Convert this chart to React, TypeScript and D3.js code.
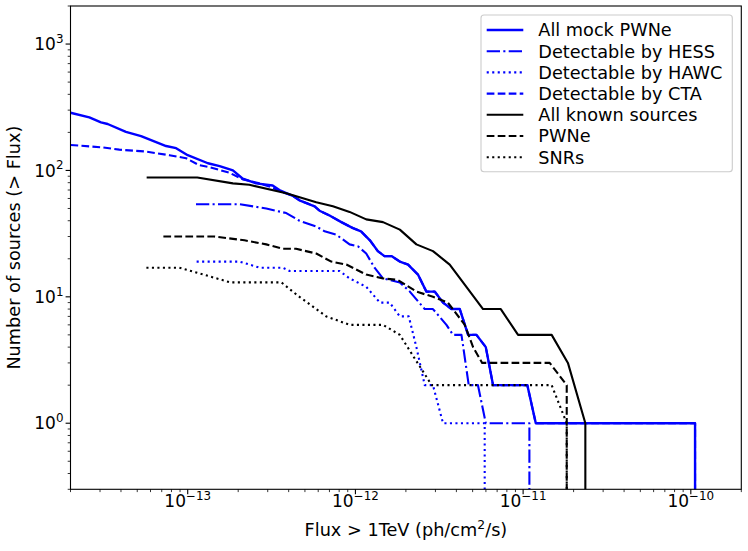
import * as d3 from "d3";

// Plot frame
const WIDTH = 748;
const HEIGHT = 551;
const MARGIN = { top: 6, right: 6.7, bottom: 61.7, left: 70.5 };
const FONT = "DejaVu Sans, sans-serif";
const LABEL_SIZE = 17.7;
const TICK_SIZE = 17;

const X_DOMAIN = [2e-14, 2e-10];
const Y_DOMAIN = [0.3, 2000];
const X_MAJOR = [1e-13, 1e-12, 1e-11, 1e-10];
const X_EXP = ["−13", "−12", "−11", "−10"];
const Y_MAJOR = [1, 10, 100, 1000];
const Y_EXP = ["0", "1", "2", "3"];

// [flux, number of sources above that flux]; 0 means the curve runs off the bottom
const allMock = [
  [2.0e-14, 286], [2.59e-14, 263], [3.04e-14, 240], [3.33e-14, 233], [4.28e-14, 202],
  [5.27e-14, 187], [7.43e-14, 156], [8.53e-14, 150], [1.0e-13, 132], [1.32e-13, 114],
  [1.55e-13, 108], [1.86e-13, 100], [2.13e-13, 86], [2.56e-13, 79], [3.21e-13, 76],
  [3.52e-13, 70], [4.23e-13, 63], [4.64e-13, 58], [5.71e-13, 52], [6.11e-13, 48],
  [7.01e-13, 44], [8.24e-13, 39], [9.66e-13, 35], [1.08e-12, 33], [1.22e-12, 28],
  [1.36e-12, 23], [1.49e-12, 21], [1.64e-12, 21], [1.84e-12, 19], [2.06e-12, 18],
  [2.36e-12, 15], [2.65e-12, 11], [2.97e-12, 11], [3.33e-12, 9], [3.74e-12, 8],
  [4.19e-12, 8], [4.70e-12, 5], [5.27e-12, 5], [5.99e-12, 4], [6.62e-12, 2],
  [1.06e-11, 2], [1.19e-11, 1], [1.06e-10, 1], [1.06e-10, 0],
];

const hess = [
  [1.12e-13, 54], [2.04e-13, 54], [2.94e-13, 50], [3.87e-13, 46], [4.64e-13, 40],
  [5.84e-13, 36], [6.55e-13, 33], [7.69e-13, 31], [9.23e-13, 26], [1.04e-12, 25],
  [1.16e-12, 22], [1.30e-12, 17], [1.46e-12, 14], [1.84e-12, 13], [2.11e-12, 11],
  [2.59e-12, 8], [2.90e-12, 8], [3.49e-12, 6], [3.82e-12, 5], [4.29e-12, 5],
  [4.74e-12, 2], [5.38e-12, 2], [5.99e-12, 1], [1.09e-11, 1], [1.09e-11, 0],
];

const hawc = [
  [1.13e-13, 19], [2.04e-13, 19], [2.68e-13, 17], [3.69e-13, 17], [4.05e-13, 16],
  [8.05e-13, 16], [9.23e-13, 14], [1.16e-12, 12], [1.40e-12, 9], [1.60e-12, 9],
  [1.84e-12, 7], [2.08e-12, 7], [2.31e-12, 4], [2.59e-12, 2], [2.90e-12, 2],
  [3.33e-12, 1], [5.90e-12, 1], [5.90e-12, 0],
];

const cta = [
  [2.0e-14, 159], [3.11e-14, 152], [3.91e-14, 146], [5.65e-14, 141], [7.78e-14, 132],
  [9.78e-14, 125], [1.17e-13, 110], [1.35e-13, 106], [1.77e-13, 96], [2.13e-13, 85],
  [2.68e-13, 79], [3.21e-13, 73], [3.69e-13, 67], [4.23e-13, 63], [4.64e-13, 58],
  [5.71e-13, 52], [6.11e-13, 48], [7.01e-13, 44], [8.24e-13, 39], [9.66e-13, 35],
  [1.08e-12, 33], [1.22e-12, 28], [1.36e-12, 23], [1.49e-12, 21], [1.64e-12, 21],
  [1.84e-12, 19], [2.06e-12, 18], [2.36e-12, 15], [2.65e-12, 11], [2.97e-12, 11],
  [3.33e-12, 9], [3.74e-12, 8], [4.19e-12, 8], [4.70e-12, 5], [5.27e-12, 5],
  [5.99e-12, 4], [6.62e-12, 2], [1.06e-11, 2], [1.19e-11, 1], [1.06e-10, 1],
  [1.06e-10, 0],
];

const allKnown = [
  [5.69e-14, 88], [1.14e-13, 88], [1.86e-13, 79], [2.33e-13, 77], [3.87e-13, 66],
  [5.84e-13, 56], [7.34e-13, 52], [9.23e-13, 47], [1.16e-12, 41], [1.46e-12, 39],
  [1.84e-12, 34], [2.31e-12, 26], [2.90e-12, 23], [3.65e-12, 18], [5.77e-12, 8],
  [7.36e-12, 8], [9.33e-12, 5], [1.48e-11, 5], [1.85e-11, 3], [2.35e-11, 1],
  [2.35e-11, 0],
];

const pwne = [
  [7.16e-14, 30], [1.44e-13, 30], [2.18e-13, 28], [2.94e-13, 26], [3.69e-13, 24],
  [4.43e-13, 24], [5.84e-13, 22], [7.18e-13, 19], [8.83e-13, 18], [1.16e-12, 15],
  [1.46e-12, 14], [1.79e-12, 13.6], [2.31e-12, 11], [2.90e-12, 10], [3.56e-12, 9],
  [4.49e-12, 6], [5.03e-12, 4], [5.70e-12, 3], [1.44e-11, 3], [1.82e-11, 2],
  [1.82e-11, 0],
];

const snrs = [
  [5.67e-14, 17], [8.92e-14, 17], [1.24e-13, 15], [1.80e-13, 13], [3.62e-13, 13],
  [4.23e-13, 11], [4.64e-13, 10], [5.84e-13, 8], [6.70e-13, 7], [9.23e-13, 6],
  [1.46e-12, 6], [1.84e-12, 5], [2.21e-12, 3.4], [2.85e-12, 2], [1.48e-11, 2],
  [1.82e-11, 1], [1.82e-11, 0],
];

// matplotlib default dash patterns for a 1.5pt line, in px
const DASHED = "7.7 3.3";
const DASHDOT = "13.3 3.3 2.1 3.3";
const DOTTED = "2.1 3.4";

const SERIES = [
  { name: "All mock PWNe", data: allMock, color: "#0000ff", dash: "none", width: 2.4 },
  { name: "Detectable by HESS", data: hess, color: "#0000ff", dash: DASHDOT, width: 2.1 },
  { name: "Detectable by HAWC", data: hawc, color: "#0000ff", dash: DOTTED, width: 2.1 },
  { name: "Detectable by CTA", data: cta, color: "#0000ff", dash: DASHED, width: 2.1 },
  { name: "All known sources", data: allKnown, color: "#000000", dash: "none", width: 2.1 },
  { name: "PWNe", data: pwne, color: "#000000", dash: DASHED, width: 2.1 },
  { name: "SNRs", data: snrs, color: "#000000", dash: DOTTED, width: 2.1 },
];

const minorTicks = (domain: number[]) => {
  const out: number[] = [];
  const lo = Math.floor(Math.log10(domain[0]));
  const hi = Math.ceil(Math.log10(domain[1]));
  for (let e = lo; e <= hi; e++) {
    for (let m = 2; m <= 9; m++) {
      const v = m * Math.pow(10, e);
      if (v >= domain[0] && v <= domain[1]) out.push(v);
    }
  }
  return out;
};

export default function App() {
  const left = MARGIN.left;
  const right = WIDTH - MARGIN.right;
  const top = MARGIN.top;
  const bottom = HEIGHT - MARGIN.bottom;

  const xScale = d3.scaleLog().domain(X_DOMAIN).range([left, right]);
  const yScale = d3.scaleLog().domain(Y_DOMAIN).range([bottom, top]);

  // counts of zero go far below the frame and get clipped, like matplotlib does
  const line = d3
    .line<number[]>()
    .x((d) => xScale(d[0]))
    .y((d) => (d[1] > 0 ? yScale(d[1]) : bottom + 100));

  const legendX = 481;
  const legendY = 15;
  const rowH = 21.2;

  return (
    <svg
      width={WIDTH}
      height={HEIGHT}
      style={{ position: "absolute", left: 0, top: 0, background: "#fff" }}
      fontFamily={FONT}
    >
      <defs>
        <clipPath id="plot-area">
          <rect x={left} y={top} width={right - left} height={bottom - top} />
        </clipPath>
      </defs>

      <g clipPath="url(#plot-area)">
        {SERIES.map((s) => (
          <path
            key={s.name}
            d={line(s.data) ?? ""}
            fill="none"
            stroke={s.color}
            strokeWidth={s.width}
            strokeDasharray={s.dash}
            strokeLinejoin="round"
          />
        ))}
      </g>

      {/* frame */}
      <rect
        x={left}
        y={top}
        width={right - left}
        height={bottom - top}
        fill="none"
        stroke="#000"
        strokeWidth={1.1}
      />

      {/* x ticks */}
      {minorTicks(X_DOMAIN).map((v) => (
        <line key={"xm" + v} x1={xScale(v)} x2={xScale(v)} y1={bottom} y2={bottom + 2.8} stroke="#000" strokeWidth={0.8} />
      ))}
      {X_MAJOR.map((v, i) => (
        <g key={"x" + v}>
          <line x1={xScale(v)} x2={xScale(v)} y1={bottom} y2={bottom + 4.9} stroke="#000" strokeWidth={1.1} />
          <text x={xScale(v)} y={507} fontSize={TICK_SIZE} textAnchor="middle">
            <tspan>10</tspan>
            <tspan dy={-7.5} fontSize={TICK_SIZE * 0.7}>{X_EXP[i]}</tspan>
          </text>
        </g>
      ))}

      {/* y ticks */}
      {minorTicks(Y_DOMAIN).map((v) => (
        <line key={"ym" + v} x1={left - 2.8} x2={left} y1={yScale(v)} y2={yScale(v)} stroke="#000" strokeWidth={0.8} />
      ))}
      {Y_MAJOR.map((v, i) => (
        <g key={"y" + v}>
          <line x1={left - 4.9} x2={left} y1={yScale(v)} y2={yScale(v)} stroke="#000" strokeWidth={1.1} />
          <text x={63.5} y={yScale(v) + 6.2} fontSize={TICK_SIZE} textAnchor="end">
            <tspan>10</tspan>
            <tspan dy={-7.5} fontSize={TICK_SIZE * 0.7}>{Y_EXP[i]}</tspan>
          </text>
        </g>
      ))}

      {/* axis titles */}
      <text x={(left + right) / 2} y={535.5} fontSize={LABEL_SIZE} textAnchor="middle">
        <tspan>Flux &gt; 1TeV (ph/cm</tspan>
        <tspan dy={-6.8} fontSize={LABEL_SIZE * 0.7}>2</tspan>
        <tspan dy={6.8}>/s)</tspan>
      </text>
      <text
        transform={`translate(20, ${(top + bottom) / 2}) rotate(-90)`}
        fontSize={LABEL_SIZE}
        textAnchor="middle"
      >
        Number of sources (&gt; Flux)
      </text>

      {/* legend */}
      <rect
        x={legendX}
        y={legendY}
        width={251.3}
        height={156.7}
        rx={3}
        fill="#fff"
        fillOpacity={0.8}
        stroke="#cccccc"
        strokeWidth={1.1}
      />
      {SERIES.map((s, i) => {
        const cy = 30 + i * rowH;
        return (
          <g key={"leg" + s.name}>
            <line
              x1={486.7}
              x2={523.3}
              y1={cy}
              y2={cy}
              stroke={s.color}
              strokeWidth={s.width}
              strokeDasharray={s.dash}
            />
            <text x={538.3} y={cy + 6.3} fontSize={LABEL_SIZE}>
              {s.name}
            </text>
          </g>
        );
      })}
    </svg>
  );
}
